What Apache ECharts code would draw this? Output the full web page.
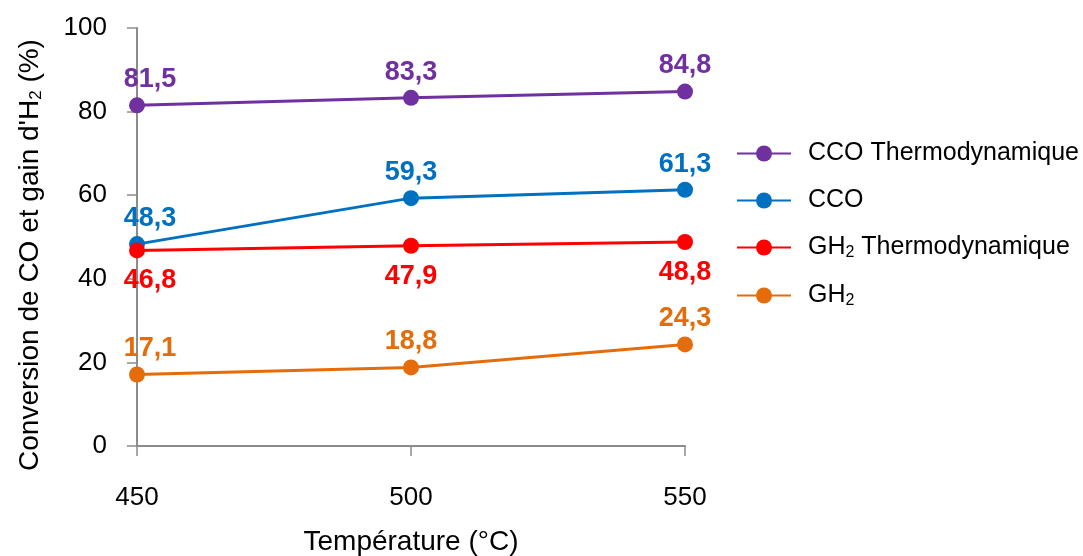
<!DOCTYPE html>
<html><head><meta charset="utf-8">
<script src="https://cdn.jsdelivr.net/npm/echarts@6/dist/echarts.min.js"></script>
<style>html,body{margin:0;padding:0;background:#fff}#c{width:1083px;height:556px}</style>
</head><body><div id="c"></div>
<script>
const temperatures = ['450', '500', '550'];
const seriesNames = ['CCO Thermodynamique', 'CCO', 'GH2 Thermodynamique', 'GH2'];
const ccoThermo = [81.5, 83.3, 84.8];
const cco = [48.3, 59.3, 61.3];
const gh2Thermo = [46.8, 47.9, 48.8];
const gh2 = [17.1, 18.8, 24.3];
const yTicks = [0, 20, 40, 60, 80, 100];

const colors = ['#7030A0', '#0070C0', '#FF0000', '#E46C0A'];
const labelPos = ['top', 'top', 'bottom', 'top'];
const allData = [ccoThermo, cco, gh2Thermo, gh2];
const FONT = 'Liberation Sans';

const chart = echarts.init(document.getElementById('c'));
const subRich = {
  sub: { fontSize: 16, fontFamily: FONT, color: '#000', verticalAlign: 'bottom', padding: [11, 0, 0, 0] }
};
const fmtSub = s => s.replace(/H2/, 'H{sub|2}');

chart.setOption({
  animation: false,
  textStyle: { fontFamily: FONT },
  grid: { left: 137, right: 398, top: 28, bottom: 110, containLabel: false, outerBoundsMode: 'none' },
  legend: {
    orient: 'vertical', left: 731, top: 136, itemGap: 22, itemWidth: 54, itemHeight: 20,
    data: seriesNames,
    textStyle: { fontSize: 25, color: '#000', fontFamily: FONT, padding: [0, 0, 0, 12], rich: subRich },
    formatter: fmtSub
  },
  xAxis: {
    type: 'category', data: temperatures, boundaryGap: false,
    name: 'Température (°C)', nameLocation: 'middle', nameGap: 82,
    nameTextStyle: { fontSize: 28, color: '#000', fontFamily: FONT },
    axisLine: { lineStyle: { color: '#8c8c8c', width: 2 } },
    axisTick: { show: true, length: 10, alignWithLabel: true, lineStyle: { color: '#8c8c8c', width: 1.5 } },
    axisLabel: { fontSize: 26, color: '#000', margin: 39, fontFamily: FONT },
    splitLine: { show: false }
  },
  yAxis: {
    type: 'value', min: yTicks[0], max: yTicks[yTicks.length - 1], interval: yTicks[1] - yTicks[0],
    name: "Conversion de CO et gain d'H{s|2} (%)", nameLocation: 'middle', nameGap: 92, nameRotate: 90,
    nameTextStyle: { fontSize: 28, color: '#000', fontFamily: FONT, padding: [0, 36, 0, 0],
      rich: { s: { fontSize: 17, color: '#000', fontFamily: FONT, verticalAlign: 'bottom', padding: [12, 0, 0, 0] } } },
    axisLine: { show: true, lineStyle: { color: '#8c8c8c', width: 2 } },
    axisTick: { show: true, length: 10, lineStyle: { color: '#8c8c8c', width: 1.5 } },
    axisLabel: { fontSize: 26, color: '#000', margin: 30, fontFamily: FONT },
    splitLine: { show: false }
  },
  series: seriesNames.map((name, i) => ({
    name: name, type: 'line', color: colors[i],
    symbol: 'circle', symbolSize: 16,
    lineStyle: { width: 3, color: colors[i] },
    itemStyle: { color: colors[i] },
    data: allData[i].map((v, j) => ({
      value: v,
      label: j === 0 ? { offset: [13, 0] } : {}
    })),
    label: {
      show: true, position: labelPos[i], distance: labelPos[i] === 'bottom' ? 9 : 4,
      fontSize: 27, fontWeight: 'bold', color: colors[i], fontFamily: FONT,
      formatter: p => String(p.value).replace('.', ',')
    }
  }))
});
</script></body></html>
